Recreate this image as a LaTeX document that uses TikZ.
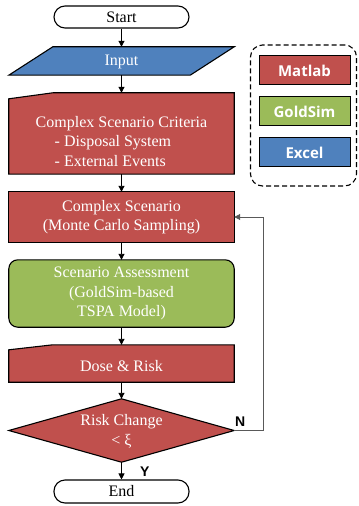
\documentclass[tikz,border=0pt]{standalone}
\usepackage{fontspec}
\setmainfont{Liberation Serif}
\newfontfamily\legfont{Open Sans}
\newfontfamily\labfont{Liberation Sans}
\usetikzlibrary{arrows.meta,calc,backgrounds}
\definecolor{cred}{HTML}{C0504D}
\definecolor{cgreen}{HTML}{9BBB59}
\definecolor{cblue}{HTML}{4F81BD}
\definecolor{fbgray}{HTML}{595959}
\begin{document}
\begin{tikzpicture}[x=1bp,y=-1bp,
  shapebox/.style={draw=none, minimum width=225bp, inner sep=0pt},
  outline/.style={draw=black, line width=1.1bp},
  txt/.style={text=white, inner sep=0pt, align=center, font=\fontsize{16bp}{19.5bp}\selectfont},
  term/.style={draw=black, line width=1.1bp, fill=white, rounded corners=11bp, minimum width=135bp, inner sep=0pt, font=\fontsize{16bp}{19.5bp}\selectfont},
  flow/.style={-{Triangle[length=6bp,width=6bp]}, line width=0.9bp, draw=black},
  fb/.style={-{Triangle[length=6bp,width=6bp]}, line width=0.9bp, draw=fbgray},
  legbox/.style={draw=black, line width=1bp, minimum width=91bp, minimum height=29bp, inner sep=0pt, text=white, font=\legfont\bfseries\fontsize{15bp}{18bp}\selectfont},
  yn/.style={font=\labfont\bfseries\fontsize{14bp}{16bp}\selectfont, inner sep=0pt}
]
\useasboundingbox (0,0) rectangle (358,506);

% terminals
\node[term, minimum height=22bp] (start) at (121.5,17) {Start};
\node[term, minimum height=23bp] (end) at (121.5,491.5) {End};

% shape placeholders
\node[shapebox, minimum height=28bp] (input) at (121.5,61) {};
\node[shapebox, minimum height=81bp] (crit) at (121.5,133.5) {};
\node[shapebox, minimum height=50bp] (cs) at (121.5,217) {};
\node[shapebox, minimum height=67bp] (sa) at (121.5,293.5) {};
\node[shapebox, minimum height=37bp] (dose) at (121.5,363.5) {};
\node[shapebox, minimum height=63bp] (dec) at (121.5,430.5) {};

\begin{scope}[on background layer]
\draw[outline, fill=cblue] ($(input.north west)+(44,0)$) -- (input.north east)
  -- ($(input.south east)+(-44,0)$) -- (input.south west) -- cycle;
\draw[outline, fill=cred] (crit.south west) -- ($(crit.north west)+(0,6)$)
  -- ($(crit.north west)+(44,0)$) -- (crit.north east) -- (crit.south east) -- cycle;
\draw[outline, fill=cred] (cs.north west) rectangle (cs.south east);
\draw[outline, fill=cgreen, rounded corners=9bp] (sa.north west) rectangle (sa.south east);
\draw[outline, fill=cred] (dose.south west) -- ($(dose.north west)+(0,5)$)
  -- ($(dose.north west)+(44,0)$) -- (dose.north east) -- (dose.south east) -- cycle;
\draw[outline, fill=cred] (dec.north) -- (dec.east) -- (dec.south) -- (dec.west) -- cycle;
\end{scope}

% texts
\node[txt] (inputT) at (121.5,62) {Input};
\node[txt, align=left] (critT) at (121.5,141.5) {Complex Scenario Criteria\\\hspace*{19bp}- Disposal System\\\hspace*{19bp}- External Events};
\node[txt] (csT) at (121.5,217) {Complex Scenario\\(Monte Carlo Sampling)};
\node[txt] (saT) at (121.5,293.5) {Scenario Assessment\\(GoldSim-based\\TSPA Model)};
\node[txt] (doseT) at (121.5,366) {Dose \& Risk};
\node[txt] (decT) at (121.5,431.5) {Risk Change\\< ξ};

% connectors
\draw[flow] (start.south) -- (input.north);
\draw[flow] (input.south) -- (crit.north);
\draw[flow] (crit.south) -- (cs.north);
\draw[flow] (cs.south) -- (sa.north);
\draw[flow] (sa.south) -- (dose.north);
\draw[flow] (dose.south) -- (dec.north);
\draw[flow] (dec.south) -- (end.north);
\draw[fb] (dec.east) -- ++(29,0) |- (cs.east);

\node[yn, anchor=west] (ylab) at (140,472) {Y};
\node[yn, anchor=west] (nlab) at (235,422) {N};

% legend
\node[draw=black, line width=1.1bp, dash pattern=on 5bp off 3bp, rounded corners=12bp,
  minimum width=106bp, minimum height=141bp, inner sep=0pt] (leg) at (303.5,115.5) {};
\node[legbox, fill=cred] (matlab) at (304.5,70.5) {Matlab};
\node[legbox, fill=cgreen] (goldsim) at (304.5,111.5) {GoldSim};
\node[legbox, fill=cblue] (excel) at (304.5,152.5) {Excel};
\end{tikzpicture}
\end{document}
